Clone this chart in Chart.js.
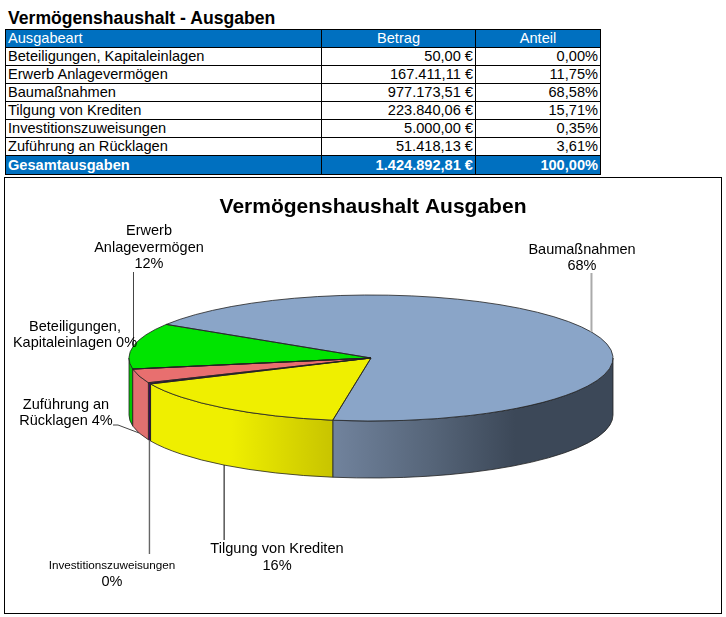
<!DOCTYPE html>
<html lang="de">
<head>
<meta charset="utf-8">
<title>Vermögenshaushalt - Ausgaben</title>
<script src="https://cdn.jsdelivr.net/npm/chart.js@4/dist/chart.umd.min.js"></script>
<style>
  html, body { margin: 0; padding: 0; background: #fff; }
  body { position: relative; width: 726px; height: 617px; overflow: hidden; font-family: "Liberation Sans", Arial, sans-serif; color: #000; }
  #heading { position: absolute; left: 8px; top: 9px; font-size: 17.6px; line-height: 18px; font-weight: bold; white-space: nowrap; }
  #budget { position: absolute; left: 5px; top: 29px; width: 595px; border-collapse: collapse; table-layout: fixed; font-size: 14.6px; }
  #budget td, #budget th { border: 1px solid #000; height: 17px; padding: 0 2px; line-height: 17px; font-weight: normal; white-space: nowrap; overflow: hidden; }
  #budget .num { text-align: right; }
  #budget th { text-align: center; }
  #budget th:first-child { text-align: left; }
  #budget .blue, #budget .blue td, #budget .blue th { background: #0070c0; color: #fff; }
  #budget .sum td { font-weight: bold; height: 18px; }
  #box { position: absolute; left: 4px; top: 177px; width: 716px; height: 435px; border: 1px solid #000; }
  #pie { display: block; }
</style>
</head>
<body>
<div id="heading">Vermögenshaushalt - Ausgaben</div>
<table id="budget">
  <colgroup><col style="width:316px"><col style="width:154px"><col style="width:125px"></colgroup>
  <thead><tr class="blue"><th>Ausgabeart</th><th>Betrag</th><th>Anteil</th></tr></thead>
  <tbody id="rows"></tbody>
</table>
<div id="box"><canvas id="pie" width="716" height="435"></canvas></div>
<script>
const categories = ["Beteiligungen, Kapitaleinlagen", "Erwerb Anlagevermögen", "Baumaßnahmen", "Tilgung von Krediten", "Investitionszuweisungen", "Zuführung an Rücklagen"];
const betrag = [50.00, 167411.11, 977173.51, 223840.06, 5000.00, 51418.13];
const anteil = [0.00, 11.75, 68.58, 15.71, 0.35, 3.61];
const totalLabel = "Gesamtausgaben";
const totalBetrag = 1424892.81;
const totalAnteil = 100.00;

const topColors = ["#00b050", "#00e400", "#8aa5c8", "#efef00", "#3b0a57", "#e86f6f"];
const wallColors = ["#00c000", "#00c800", null, null, "#3b0a57", "#e07070"];

// pie drawn squashed, numbers are in canvas px (page minus box offset)
const PIE_X = 366, PIE_Y = 180, RX = 242, RY = 63, DEPTH = 57;

// text around the pie: [center x, center y, text, font size]
const pieLabels = [
  [144, 53, "Erwerb", 14.5], [144, 70, "Anlagevermögen", 14.5], [144, 86, "12%", 14.5],
  [577, 72, "Baumaßnahmen", 14.5], [577, 88, "68%", 14.5],
  [70, 149, "Beteiligungen,", 14.5], [70, 165, "Kapitaleinlagen 0%", 14.5],
  [61, 227, "Zuführung an", 14.5], [61, 243, "Rücklagen 4%", 14.5],
  [272, 371, "Tilgung von Krediten", 14.6], [272, 388, "16%", 14.6],
  [107, 388, "Investitionszuweisungen", 11.7], [107, 404, "0%", 14.5],
];
// leaders per slice index: vertical ones give a start y, the rest a list of points
const leaders = {
  1: { y: 94, color: "#444", width: 1 },
  2: { y: 95, color: "#aaa", width: 2 },
  3: { y: 362, color: "#000", width: 1 },
  4: { y: 376, color: "#666", width: 1.4 },
  5: { points: [[108, 247], [113, 247]], color: "#444", width: 1 },
};

function money(v) {
  const parts = v.toFixed(2).split(".");
  return parts[0].replace(/\B(?=(\d{3})+$)/g, ".") + "," + parts[1] + " €";
}
function percent(v) {
  return v.toFixed(2).replace(".", ",") + "%";
}

let html = "";
categories.forEach((c, i) => {
  html += `<tr><td>${c}</td><td class="num">${money(betrag[i])}</td><td class="num">${percent(anteil[i])}</td></tr>`;
});
html += `<tr class="blue sum"><td>${totalLabel}</td><td class="num">${money(totalBetrag)}</td><td class="num">${percent(totalAnteil)}</td></tr>`;
document.getElementById("rows").innerHTML = html;

function wallGradient(ctx, i) {
  if (i === 2) {
    const g = ctx.createLinearGradient(PIE_X - 38, 0, PIE_X + 242, 0);
    g.addColorStop(0, "#71839d");
    g.addColorStop(0.35, "#566579");
    g.addColorStop(0.65, "#3c4858");
    g.addColorStop(1, "#3c4858");
    return g;
  }
  if (i === 3) {
    const g = ctx.createLinearGradient(PIE_X - 223, 0, PIE_X - 38, 0);
    g.addColorStop(0, "#efef00");
    g.addColorStop(0.45, "#efef00");
    g.addColorStop(1, "#c8c400");
    return g;
  }
  return wallColors[i];
}

function pointAt(a, drop) {
  return [PIE_X + RX * Math.cos(a), PIE_Y + RY * Math.sin(a) + drop];
}

const pie3d = {
  id: "pie3d",
  beforeDatasetsDraw(chart) {
    const ctx = chart.ctx;
    const arcs = chart.getDatasetMeta(0).data;
    ctx.save();
    ctx.strokeStyle = "#222";
    ctx.lineWidth = 0.8;
    arcs.forEach((arc, i) => {
      [0, 2 * Math.PI].forEach((k) => {
        const a0 = Math.max(arc.startAngle + k, 0);
        const a1 = Math.min(arc.endAngle + k, Math.PI);
        if (a1 <= a0) return;
        ctx.beginPath();
        ctx.ellipse(PIE_X, PIE_Y, RX, RY, 0, a0, a1);
        ctx.lineTo(...pointAt(a1, DEPTH));
        ctx.ellipse(PIE_X, PIE_Y + DEPTH, RX, RY, 0, a1, a0, true);
        ctx.closePath();
        ctx.fillStyle = wallGradient(ctx, i);
        ctx.fill();
        ctx.stroke();
      });
    });
    ctx.restore();
  },
  beforeDatasetDraw(chart) {
    const ctx = chart.ctx;
    const arc = chart.getDatasetMeta(0).data[0];
    ctx.save();
    ctx.translate(PIE_X, PIE_Y);
    ctx.scale(RX / arc.outerRadius, RY / arc.outerRadius);
    ctx.translate(-arc.x, -arc.y);
  },
  afterDatasetDraw(chart) {
    chart.ctx.restore();
  },
  afterDatasetsDraw(chart) {
    const ctx = chart.ctx;
    ctx.save();
    ctx.strokeStyle = "#222";
    ctx.lineWidth = 0.8;
    chart.getDatasetMeta(0).data.forEach((arc) => {
      ctx.beginPath();
      ctx.moveTo(PIE_X, PIE_Y);
      ctx.ellipse(PIE_X, PIE_Y, RX, RY, 0, arc.startAngle, arc.endAngle);
      ctx.closePath();
      ctx.stroke();
    });
    // leader lines
    chart.getDatasetMeta(0).data.forEach((arc, i) => {
      const leader = leaders[i];
      if (!leader) return;
      const mid = (arc.startAngle + arc.endAngle) / 2;
      const end = pointAt(mid, Math.sin(mid) > 0 ? DEPTH : 0);
      const starts = leader.points || [[end[0], leader.y]];
      ctx.strokeStyle = leader.color;
      ctx.lineWidth = leader.width;
      ctx.beginPath();
      starts.forEach((p, n) => (n ? ctx.lineTo(p[0], p[1]) : ctx.moveTo(p[0], p[1])));
      ctx.lineTo(end[0], end[1]);
      ctx.stroke();
    });
    // labels
    ctx.fillStyle = "#000";
    ctx.textAlign = "center";
    ctx.textBaseline = "middle";
    pieLabels.forEach(([x, y, text, size]) => {
      ctx.font = `${size}px "Liberation Sans", Arial, sans-serif`;
      ctx.fillText(text, x, y);
    });
    ctx.restore();
  },
};

new Chart(document.getElementById("pie"), {
  type: "pie",
  data: {
    labels: categories,
    datasets: [{ data: betrag, backgroundColor: topColors, borderWidth: 0, clip: false }],
  },
  options: {
    responsive: false,
    animation: false,
    rotation: -100.1,
    layout: { padding: { left: 20 } },
    plugins: {
      legend: { display: false },
      tooltip: { enabled: false },
      title: {
        display: true,
        text: "Vermögenshaushalt Ausgaben",
        color: "#000",
        font: { family: '"Liberation Sans", Arial, sans-serif', size: 21, weight: "bold" },
        padding: { top: 17, bottom: 10 },
      },
    },
  },
  plugins: [pie3d],
});
</script>
</body>
</html>
